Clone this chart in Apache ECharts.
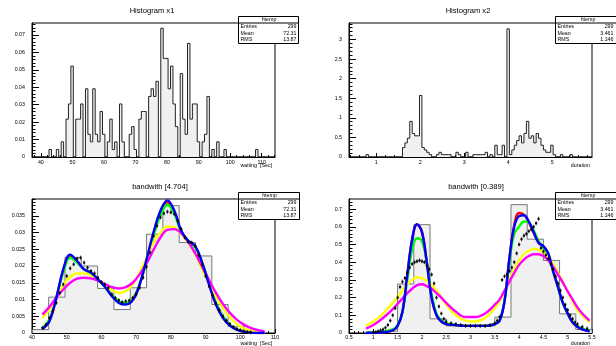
<!DOCTYPE html>
<html><head><meta charset="utf-8">
<script src="https://cdn.jsdelivr.net/npm/echarts@6/dist/echarts.min.js"></script>
<style>html,body{margin:0;padding:0;background:#fff}#c{width:616px;height:346px}</style>
</head><body><div id="c"></div>
<script>
// ---------------- DATA ----------------
// Histogram x1 (waiting), 100 bins
const tlLo = 37.2, tlBinW = 0.77, tlHi = 114.2, tlYMax = 0.0768;
const tlDensity = [
0,0,0,0,0,0,0,.0043,0,0,
.0043,0,.0087,0,.0217,.0304,.0521,0,.0217,.0217,
.0304,0,.0391,.0130,.0087,.0391,.0130,.0087,.0261,.0130,
0,.0087,.0217,.0043,.0087,0,.0304,.0087,0,0,
.0130,.0174,.0043,0,.0217,.0261,.0261,0,.0347,.0391,
.0347,.0434,0,.0738,.0565,.0565,.0391,.0521,.0304,.0174,
0,.0478,.0217,.0130,.0651,.0217,.0304,.0304,.0087,0,
.0087,.0130,.0347,0,.0043,0,.0087,0,0,.0043,
0,0,0,0,0,0,0,0,0,0,
0,0,.0043,0,0,0,0,0,0,0];
// Histogram x2 (duration), 100 bins
const trLo = 0.378, trBinW = 0.0553, trHi = 5.908, trYMax = 3.42;
const trDensity = [
0,0,0,0,0,0,0,.06,0,0,
0,0,0,0,0,0,0,0,0,0,
0,0,.24,.36,.48,.91,.60,.54,.54,1.57,
.24,.18,.12,.06,0,0,.06,.12,.06,.06,
.06,.06,0,0,.12,.06,0,0,.12,0,
0,.06,.06,.06,.06,.06,.12,0,.06,0,
.30,.06,.06,.30,0,3.27,.06,.18,.30,.42,
.54,.36,.60,.91,.48,.54,.36,.60,.48,.30,
.18,.12,.12,.30,.06,0,0,.06,0,0,
0,.06,0,0,0,0,0,0,0,0];
// bandwidth [4.704] panel
const blEdges = [40.1,44.8,49.5,54.2,58.9,63.6,68.3,73.0,77.7,82.4,87.1,91.8,96.5,101.2,105.9];
const blHist  = [0.001,0.0107,0.0225,0.020,0.0133,0.007,0.0135,0.0295,0.038,0.027,0.023,0.0085,0.002,0.0004];
const blX = [43,45,47,49,51,53,55,57,59,61,63,65,67,69,71,73,75,77,79,81,83,85,87,89,91,93,95,97,99,101,103,105,107];
const blRed    = [0.0013,0.0036,0.0103,0.0187,0.0230,0.0213,0.0190,0.0180,0.0160,0.0138,0.0112,0.0093,0.0088,0.0098,0.0143,0.0218,0.0298,0.0362,0.0390,0.0362,0.0303,0.0275,0.0258,0.0210,0.0146,0.0086,0.0046,0.0023,0.0010,0.0004,0.0001,0,0];
const blGreen  = [0.0015,0.0040,0.0105,0.0180,0.0225,0.0210,0.0190,0.0178,0.0160,0.0138,0.0114,0.0095,0.0090,0.0102,0.0145,0.0215,0.0290,0.0350,0.0383,0.0355,0.0302,0.0272,0.0255,0.0210,0.0150,0.0090,0.0050,0.0025,0.0011,0.0005,0.0002,0.0001,0];
const blBlue   = [0.0012,0.0035,0.0105,0.0190,0.0234,0.0215,0.0190,0.0180,0.0160,0.0138,0.0110,0.0090,0.0085,0.0098,0.0145,0.0220,0.0300,0.0365,0.0396,0.0365,0.0305,0.0275,0.0260,0.0210,0.0145,0.0085,0.0045,0.0022,0.0010,0.0004,0.0001,0,0];
const blYellow = [0.0045,0.0070,0.0105,0.0143,0.0168,0.0178,0.0178,0.0172,0.0160,0.0145,0.0128,0.0120,0.0125,0.0145,0.0180,0.0225,0.0270,0.0300,0.0318,0.0315,0.0295,0.0270,0.0235,0.0190,0.0148,0.0110,0.0075,0.0047,0.0027,0.0014,0.0007,0.0003,0.0001];
const blMagenta= [0.0055,0.0078,0.0105,0.0130,0.0150,0.0162,0.0165,0.0163,0.0156,0.0146,0.0137,0.0133,0.0137,0.0150,0.0175,0.0208,0.0248,0.0285,0.0308,0.0310,0.0298,0.0272,0.0238,0.0198,0.0158,0.0120,0.0087,0.0060,0.0040,0.0025,0.0015,0.0009,0.0005];
const blPtsX = [43,44,45,46,47,48,49,50,51,52,53,54,55,56,57,58,59,60,61,62,63,64,65,66,67,68,69,70,71,72,73,74,75,76,77,78,79,80,81,82,83,84,85,86,87,88,89,90,91,92,93,94,95,96,97,98,99,100,101,102,103];
const blPtsY = [.0015,.0025,.0045,.0065,.009,.012,.0145,.017,.0193,.0205,.0222,.0225,.021,.0195,.0185,.0178,.0165,.0152,.0145,.0135,.0115,.0105,.0098,.0092,.0095,.0097,.0105,.0115,.0135,.0165,.0198,.024,.029,.032,.0345,.0357,.0362,.036,.0355,.0335,.031,.0285,.0272,.027,.026,.0232,.0205,.017,.014,.0112,.0088,.0068,.005,.0037,.0027,.0018,.0012,.0008,.0005,.0003,.0002];
// bandwidth [0.389] panel
const brEdges = [0.833,1.167,1.5,1.833,2.167,2.5,2.833,3.167,3.5,3.833,4.167,4.5,4.833,5.167,5.5];
const brHist  = [0.01,0.01,0.277,0.612,0.08,0.04,0.045,0.04,0.09,0.725,0.53,0.41,0.108,0.02];
const brX = [0.85,1.0,1.2,1.4,1.5,1.6,1.7,1.8,1.9,2.0,2.1,2.2,2.3,2.4,2.5,2.7,2.9,3.1,3.3,3.5,3.6,3.7,3.8,3.9,4.0,4.1,4.2,4.3,4.4,4.5,4.6,4.7,4.8,4.9,5.0,5.1,5.2,5.3,5.45];
const brRed    = [0,0.001,0.004,0.015,0.04,0.12,0.33,0.53,0.612,0.575,0.4,0.2,0.1,0.065,0.05,0.045,0.04,0.04,0.04,0.05,0.07,0.18,0.42,0.61,0.678,0.668,0.625,0.565,0.51,0.49,0.45,0.35,0.26,0.17,0.11,0.06,0.035,0.02,0.01];
const brGreen  = [0.002,0.004,0.008,0.02,0.045,0.12,0.3,0.47,0.535,0.52,0.4,0.22,0.11,0.07,0.055,0.045,0.04,0.04,0.04,0.05,0.075,0.18,0.4,0.56,0.6,0.63,0.625,0.58,0.52,0.48,0.44,0.35,0.26,0.17,0.11,0.065,0.04,0.025,0.015];
const brBlue   = [0,0.001,0.004,0.015,0.04,0.12,0.33,0.53,0.615,0.57,0.4,0.2,0.1,0.065,0.05,0.045,0.04,0.04,0.04,0.05,0.07,0.18,0.42,0.6,0.66,0.665,0.63,0.57,0.51,0.49,0.45,0.35,0.26,0.17,0.11,0.06,0.035,0.02,0.01];
const brYellow = [0.04,0.065,0.11,0.17,0.2,0.24,0.275,0.3,0.315,0.31,0.295,0.27,0.24,0.2,0.16,0.1,0.07,0.065,0.085,0.14,0.18,0.23,0.3,0.36,0.41,0.445,0.465,0.475,0.47,0.455,0.43,0.39,0.34,0.29,0.23,0.18,0.13,0.1,0.06];
const brMagenta= [0.025,0.045,0.085,0.135,0.165,0.195,0.225,0.25,0.27,0.275,0.265,0.25,0.225,0.2,0.17,0.12,0.09,0.09,0.11,0.16,0.19,0.24,0.29,0.34,0.385,0.415,0.435,0.445,0.445,0.435,0.41,0.375,0.33,0.285,0.235,0.19,0.145,0.11,0.07];
const brPtsX = [1.0,1.05,1.1,1.15,1.2,1.25,1.3,1.35,1.4,1.45,1.5,1.55,1.6,1.65,1.7,1.75,1.8,1.85,1.9,1.95,2.0,2.05,2.1,2.15,2.2,2.25,2.3,2.35,2.4,2.45,2.5,2.6,2.7,2.8,2.9,3.0,3.1,3.2,3.3,3.4,3.5,3.55,3.6,3.65,3.7,3.75,3.8,3.85,3.9,3.95,4.0,4.05,4.1,4.15,4.2,4.25,4.3,4.35,4.4,4.45,4.5,4.55,4.6,4.65,4.7,4.75,4.8,4.85,4.9,4.95,5.0,5.05,5.1,5.15,5.2,5.3,5.4];
const brPtsY = [.003,.005,.01,.015,.02,.03,.045,.07,.1,.14,.2,.26,.29,.31,.34,.37,.39,.4,.405,.41,.405,.4,.38,.36,.33,.28,.2,.15,.11,.08,.065,.055,.05,.045,.04,.04,.04,.04,.04,.045,.055,.07,.09,.3,.32,.33,.35,.37,.4,.45,.5,.53,.55,.56,.575,.585,.6,.62,.645,.48,.46,.44,.42,.39,.36,.32,.28,.24,.2,.16,.13,.1,.08,.06,.05,.035,.025];
// tick labels
const tlXTicks = [40,50,60,70,80,90,100,110];
const tlYTicks = [0,0.01,0.02,0.03,0.04,0.05,0.06,0.07];
const trXTicks = [1,2,3,4,5];
const trYTicks = [0,0.5,1,1.5,2,2.5,3];
const blXTicks = [40,50,60,70,80,90,100,110];
const blYTicks = [0,0.005,0.01,0.015,0.02,0.025,0.03,0.035];
const brXTicks = [0.5,1,1.5,2,2.5,3,3.5,4,4.5,5,5.5];
const brYTicks = [0,0.1,0.2,0.3,0.4,0.5,0.6,0.7];
const statsX1 = [['Entries','299'],['Mean','72.31'],['RMS','13.87']];
const statsX2 = [['Entries','299'],['Mean','3.461'],['RMS','1.146']];

// ---------------- BUILD ----------------
const FONT = '"Liberation Sans", Arial, Helvetica, sans-serif';
function edgesFrom(lo, w, n){ const e=[]; for(let k=0;k<=n;k++) e.push(+(lo+k*w).toFixed(5)); return e; }
function stepData(edges, vals){
  const d=[[edges[0],0]];
  for(let i=0;i<vals.length;i++) d.push([edges[i], vals[i]]);
  const n=vals.length; d.push([edges[n], vals[n-1]]); d.push([edges[n],0]);
  return d;
}
function zip(xs, ys){ return xs.map((x,i)=>[x,ys[i]]); }
function minorTicks(min,max,step){ const r=[]; const s=Math.ceil(min/step-1e-9); for(let k=s; k*step<=max+1e-9; k++) r.push(+(k*step).toFixed(6)); return r; }
const fmt = v => String(+(+v).toFixed(6));

const grids = [
  {left:32, top:23, width:243, height:134},
  {left:349, top:23, width:243, height:134},
  {left:32, top:199, width:243, height:134},
  {left:349, top:199, width:243, height:134}
].map(g=>Object.assign(g,{show:true, borderColor:'#000', borderWidth:1, backgroundColor:'#fff'}));

const panels = [
  {x:[tlLo,tlHi], y:[0,tlYMax], xt:tlXTicks, yt:tlYTicks, xm:2, ym:0.002, xlm:3},
  {x:[trLo,trHi], y:[0,trYMax], xt:trXTicks, yt:trYTicks, xm:0.2, ym:0.1, xlm:3},
  {x:[40,110], y:[0,0.04], xt:blXTicks, yt:blYTicks, xm:2, ym:0.001, xlm:2},
  {x:[0.5,5.5], y:[0,0.757], xt:brXTicks, yt:brYTicks, xm:0.1, ym:0.02, xlm:2}
];
const xAxis=[], yAxis=[];
panels.forEach((p,i)=>{
  const lab = {fontSize:5.3, color:'#000', fontFamily:FONT, formatter:fmt};
  xAxis.push({type:'value', gridIndex:i, position:'bottom', min:p.x[0], max:p.x[1],
    axisLine:{show:true, onZero:false, lineStyle:{color:'#000', width:1}},
    axisTick:{show:true, inside:true, length:4, customValues:p.xt, lineStyle:{color:'#000', width:1}},
    axisLabel:Object.assign({show:true, margin:p.xlm, customValues:p.xt}, lab),
    splitLine:{show:false}});
  xAxis.push({type:'value', gridIndex:i, position:'bottom', min:p.x[0], max:p.x[1],
    axisLine:{show:false}, axisLabel:{show:false}, splitLine:{show:false},
    axisTick:{show:true, inside:true, length:2, customValues:minorTicks(p.x[0],p.x[1],p.xm), lineStyle:{color:'#000', width:1}}});
  yAxis.push({type:'value', gridIndex:i, position:'left', min:p.y[0], max:p.y[1],
    axisLine:{show:true, onZero:false, lineStyle:{color:'#000', width:1}},
    axisTick:{show:true, inside:true, length:7, customValues:p.yt, lineStyle:{color:'#000', width:1}},
    axisLabel:Object.assign({show:true, margin:7, customValues:p.yt}, lab),
    splitLine:{show:false}});
  yAxis.push({type:'value', gridIndex:i, position:'left', min:p.y[0], max:p.y[1],
    axisLine:{show:false}, axisLabel:{show:false}, splitLine:{show:false},
    axisTick:{show:true, inside:true, length:3.5, customValues:minorTicks(p.y[0],p.y[1],p.ym), lineStyle:{color:'#000', width:1}}});
});

function histSeries(i, data, stroke){
  return {type:'line', xAxisIndex:2*i, yAxisIndex:2*i, data, step:'end', symbol:'none', silent:true,
    lineStyle:{color:stroke, width:1}, areaStyle:{color:'#f0f0f0', opacity:1}, animation:false, z:2};
}
function curve(i, xs, ys, color, w){
  return {type:'line', xAxisIndex:2*i, yAxisIndex:2*i, data:zip(xs,ys), smooth:0.4, symbol:'none', silent:true,
    lineStyle:{color, width:w||2.4}, animation:false, z:3};
}
function points(i, xs, ys){
  return {type:'custom', xAxisIndex:2*i, yAxisIndex:2*i, data:zip(xs,ys), animation:false, silent:true, z:4,
    renderItem:(params, api)=>{
      const c = api.coord([api.value(0), api.value(1)]);
      return {type:'group', children:[
        {type:'line', shape:{x1:c[0], y1:c[1]-2, x2:c[0], y2:c[1]+2}, style:{stroke:'#000', lineWidth:0.8}},
        {type:'rect', shape:{x:c[0]-1.1, y:c[1]-0.9, width:2.2, height:1.8}, style:{fill:'#000'}}
      ]};
    }};
}
const series = [
  histSeries(0, stepData(edgesFrom(tlLo,tlBinW,tlDensity.length), tlDensity), '#222'),
  histSeries(1, stepData(edgesFrom(trLo,trBinW,trDensity.length), trDensity), '#222'),
  histSeries(2, stepData(blEdges, blHist), '#777'),
  curve(2, blX, blRed, '#ff0000'), curve(2, blX, blGreen, '#00ff00'),
  curve(2, blX, blYellow, '#ffff00'), curve(2, blX, blMagenta, '#ff00ff'), curve(2, blX, blBlue, '#0000ff'),
  points(2, blPtsX, blPtsY),
  histSeries(3, stepData(brEdges, brHist), '#777'),
  curve(3, brX, brRed, '#ff0000'), curve(3, brX, brGreen, '#00ff00'),
  curve(3, brX, brYellow, '#ffff00'), curve(3, brX, brMagenta, '#ff00ff'), curve(3, brX, brBlue, '#0000ff'),
  points(3, brPtsX, brPtsY)
];

// text & stats boxes
const G = [];
function txt(t, x, y, size, align){ G.push({type:'text', x, y, z:200, style:{text:t, fontSize:size, fontFamily:FONT, fill:'#000', align:align||'center', verticalAlign:'middle'}}); }
function stats(x, y, w, rows){
  const h = 27;
  G.push({type:'rect', z:150, shape:{x:x+0.5, y:y+0.5, width:w, height:h}, style:{fill:'#fff', stroke:'#000', lineWidth:1}});
  G.push({type:'line', z:151, shape:{x1:x+0.5, y1:y+7, x2:x+w+0.5, y2:y+7}, style:{stroke:'#000', lineWidth:1}});
  txt('htemp', x+w/2+1, y+4, 5.3);
  rows.forEach((r,i)=>{ txt(r[0], x+2.5, y+10.8+i*6.4, 5.3, 'left'); txt(r[1], x+58.5, y+10.8+i*6.4, 5.3, 'right'); });
}
txt('Histogram x1', 152, 11, 7.6);
txt('Histogram x2', 468, 11, 7.6);
txt('bandwith [4.704]', 160, 187, 7.6);
txt('bandwith [0.389]', 476, 187, 7.6);
txt('waiting  [Sec]', 272, 166, 5.3, 'right');
txt('duration', 590, 166, 5.3, 'right');
txt('waiting  [Sec]', 272, 343.5, 5.3, 'right');
txt('duration', 590, 343.5, 5.3, 'right');
stats(238, 16, 60, statsX1);
stats(555, 16, 64, statsX2);
stats(238, 192, 61, statsX1);
stats(555, 192, 64, statsX2);

const chart = echarts.init(document.getElementById('c'), null, {renderer:'canvas'});
chart.setOption({backgroundColor:'#fff', animation:false, grid:grids, xAxis, yAxis, series, graphic:G});
</script></body></html>
